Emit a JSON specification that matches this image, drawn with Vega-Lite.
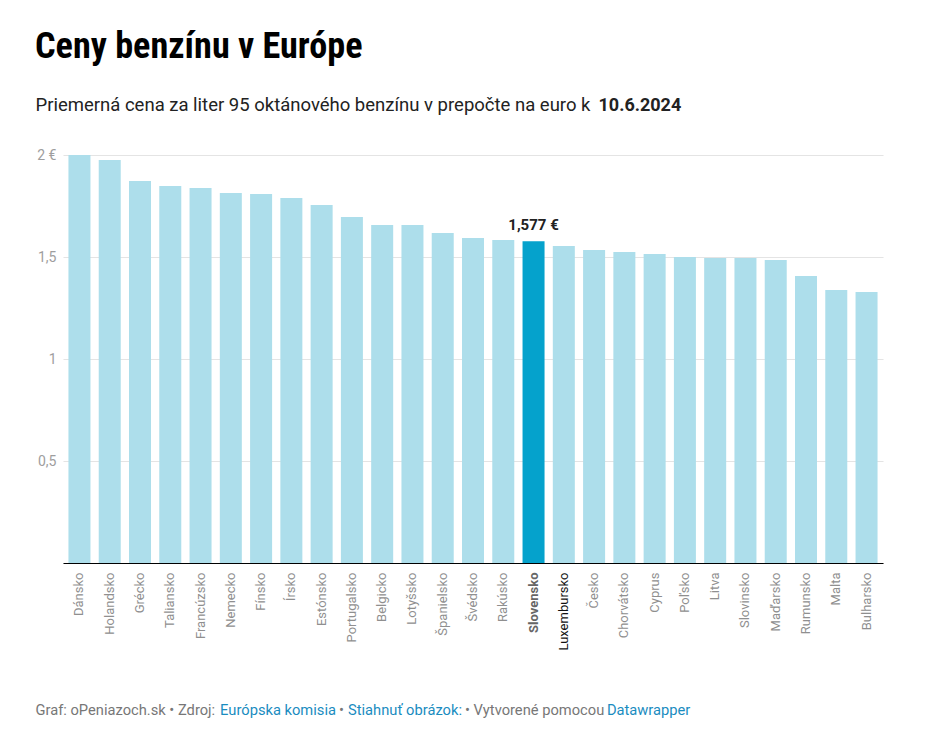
{
  "$schema": "https://vega.github.io/schema/vega-lite/v6.json",
  "width": 820,
  "height": 408,
  "autosize": {"type": "none"},
  "padding": {"left": 63, "top": 155, "right": 47, "bottom": 171},
  "background": "white",
  "config": {
    "view": {"stroke": null},
    "font": "Roboto",
    "locale": {"number": {"decimal": ",", "thousands": " ", "grouping": [3], "currency": ["", " €"]}}
  },
  "title": {
    "text": "Ceny benzínu v Európe",
    "anchor": "start",
    "frame": "group",
    "dx": -28,
    "font": "Liberation Sans Narrow, Roboto Condensed, Roboto",
    "fontSize": 36.2,
    "fontWeight": "bold",
    "color": "#000000",
    "offset": 30
  },
  "data": {
    "values": [
      {"country": "Dánsko", "price": 2.0},
      {"country": "Holandsko", "price": 1.975},
      {"country": "Grécko", "price": 1.873},
      {"country": "Taliansko", "price": 1.848},
      {"country": "Francúzsko", "price": 1.838},
      {"country": "Nemecko", "price": 1.814},
      {"country": "Fínsko", "price": 1.809},
      {"country": "Írsko", "price": 1.789},
      {"country": "Estónsko", "price": 1.755},
      {"country": "Portugalsko", "price": 1.696},
      {"country": "Belgicko", "price": 1.657},
      {"country": "Lotyšsko", "price": 1.657},
      {"country": "Španielsko", "price": 1.618},
      {"country": "Švédsko", "price": 1.593},
      {"country": "Rakúsko", "price": 1.583},
      {"country": "Slovensko", "price": 1.577},
      {"country": "Luxembursko", "price": 1.554},
      {"country": "Česko", "price": 1.534},
      {"country": "Chorvátsko", "price": 1.525},
      {"country": "Cyprus", "price": 1.515},
      {"country": "Poľsko", "price": 1.5},
      {"country": "Litva", "price": 1.495},
      {"country": "Slovinsko", "price": 1.495},
      {"country": "Maďarsko", "price": 1.485},
      {"country": "Rumunsko", "price": 1.407},
      {"country": "Malta", "price": 1.338},
      {"country": "Bulharsko", "price": 1.328}
    ]
  },
  "resolve": {"axis": {"x": "independent"}},
  "layer": [
    {
      "mark": {"type": "bar"},
      "encoding": {
        "x": {
          "field": "country", "type": "nominal", "sort": null,
          "scale": {"paddingInner": 0.273, "paddingOuter": 0.18},
          "axis": {
            "orient": "bottom",
            "labelAngle": -90, "labelAlign": "right", "labelBaseline": "middle",
            "labelPadding": 9, "labelFont": "Roboto", "labelFontSize": 13,
            "labelColor": {"expr": "datum.value == 'Luxembursko' ? '#111111' : datum.value == 'Slovensko' ? '#666666' : '#8f8f8f'"},
            "labelFontWeight": {"expr": "datum.value == 'Slovensko' ? 'bold' : 'normal'"},
            "ticks": false, "domainColor": "#000000", "domainWidth": 1, "grid": false,
            "title": "Graf: oPeniazoch.sk • Zdroj:",
            "titleX": -28, "titleY": 151, "titleAlign": "left", "titleBaseline": "alphabetic",
            "titleFont": "Roboto", "titleFontSize": 14.7, "titleFontWeight": "normal", "titleColor": "#777777"
          }
        },
        "y": {
          "field": "price", "type": "quantitative",
          "scale": {"domain": [0, 2], "nice": false},
          "axis": {
            "values": [0, 0.5, 1, 1.5, 2],
            "format": "~g",
            "labelExpr": "datum.value == 0 ? '' : datum.value == 2 ? '2 €' : datum.label",
            "labelFont": "Roboto", "labelFontSize": 14, "labelColor": "#9e9e9e", "labelPadding": 7,
            "ticks": false, "domain": false, "gridColor": "#e4e4e4", "gridWidth": 1.2,
            "title": null
          }
        },
        "color": {
          "condition": {"test": "datum.country == 'Slovensko'", "value": "#05a2cc"},
          "value": "#addeeb"
        }
      }
    },
    {
      "transform": [{"filter": "datum.country == 'Slovensko'"}],
      "mark": {"type": "text", "baseline": "bottom", "dy": -8, "fontSize": 15, "fontWeight": "bold", "font": "Roboto", "color": "#222222"},
      "encoding": {
        "x": {
          "field": "country", "type": "nominal", "sort": null,
          "axis": {
            "orient": "bottom", "labels": false, "ticks": false, "domain": false, "grid": false,
            "title": "Európska komisia",
            "titleX": 156.6, "titleY": 151, "titleAlign": "left", "titleBaseline": "alphabetic",
            "titleFont": "Roboto", "titleFontSize": 14.7, "titleFontWeight": "normal", "titleColor": "#1a8cbf"
          }
        },
        "y": {"field": "price", "type": "quantitative"},
        "text": {"field": "price", "type": "quantitative", "format": "$.3f"}
      }
    },
    {
      "transform": [{"filter": "false"}],
      "mark": {"type": "bar"},
      "encoding": {
        "x": {
          "field": "country", "type": "nominal", "sort": null,
          "axis": {
            "orient": "bottom", "labels": false, "ticks": false, "domain": false, "grid": false,
            "title": "•",
            "titleX": 275.6, "titleY": 151, "titleAlign": "left", "titleBaseline": "alphabetic",
            "titleFont": "Roboto", "titleFontSize": 14.7, "titleFontWeight": "normal", "titleColor": "#777777"
          }
        }
      }
    },
    {
      "transform": [{"filter": "false"}],
      "mark": {"type": "bar"},
      "encoding": {
        "x": {
          "field": "country", "type": "nominal", "sort": null,
          "axis": {
            "orient": "bottom", "labels": false, "ticks": false, "domain": false, "grid": false,
            "title": "Stiahnuť obrázok:",
            "titleX": 284.5, "titleY": 151, "titleAlign": "left", "titleBaseline": "alphabetic",
            "titleFont": "Roboto", "titleFontSize": 14.7, "titleFontWeight": "normal", "titleColor": "#1a8cbf"
          }
        }
      }
    },
    {
      "transform": [{"filter": "false"}],
      "mark": {"type": "bar"},
      "encoding": {
        "x": {
          "field": "country", "type": "nominal", "sort": null,
          "axis": {
            "orient": "bottom", "labels": false, "ticks": false, "domain": false, "grid": false,
            "title": "• Vytvorené pomocou",
            "titleX": 401.5, "titleY": 151, "titleAlign": "left", "titleBaseline": "alphabetic",
            "titleFont": "Roboto", "titleFontSize": 14.7, "titleFontWeight": "normal", "titleColor": "#777777"
          }
        }
      }
    },
    {
      "transform": [{"filter": "false"}],
      "mark": {"type": "bar"},
      "encoding": {
        "x": {
          "field": "country", "type": "nominal", "sort": null,
          "axis": {
            "orient": "bottom", "labels": false, "ticks": false, "domain": false, "grid": false,
            "title": "Datawrapper",
            "titleX": 543.4, "titleY": 151, "titleAlign": "left", "titleBaseline": "alphabetic",
            "titleFont": "Roboto", "titleFontSize": 14.7, "titleFontWeight": "normal", "titleColor": "#1a8cbf"
          }
        }
      }
    },
    {
      "transform": [{"filter": "false"}],
      "mark": {"type": "bar"},
      "encoding": {
        "x": {
          "field": "country", "type": "nominal", "sort": null,
          "axis": {
            "orient": "top", "labels": false, "ticks": false, "domain": false, "grid": false,
            "title": "Priemerná cena za liter 95 oktánového benzínu v prepočte na euro k",
            "titleX": -28, "titleY": -45, "titleAlign": "left", "titleBaseline": "alphabetic",
            "titleFont": "Roboto", "titleFontSize": 18.5, "titleFontWeight": "normal", "titleColor": "#222222"
          }
        }
      }
    },
    {
      "transform": [{"filter": "false"}],
      "mark": {"type": "bar"},
      "encoding": {
        "x": {
          "field": "country", "type": "nominal", "sort": null,
          "axis": {
            "orient": "top", "labels": false, "ticks": false, "domain": false, "grid": false,
            "title": "10.6.2024",
            "titleX": 535, "titleY": -45, "titleAlign": "left", "titleBaseline": "alphabetic",
            "titleFont": "Roboto", "titleFontSize": 18, "titleFontWeight": "bold", "titleColor": "#222222"
          }
        }
      }
    }
  ]
}
